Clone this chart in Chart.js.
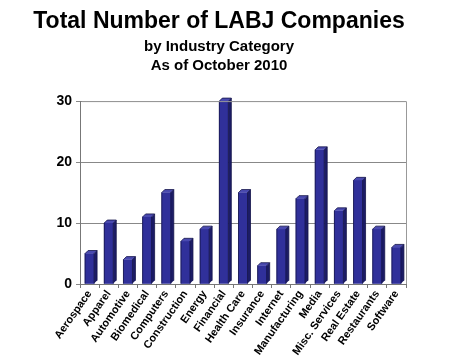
<!DOCTYPE html>
<html><head><meta charset="utf-8">
<script src="https://cdn.jsdelivr.net/npm/chart.js@4"></script>
<style>html,body{margin:0;padding:0;background:#fff;}#wrap{width:450px;height:364px;}</style>
</head><body><div id="wrap"><canvas id="c" width="450" height="364"></canvas></div>
<script>
const categories = ["Aerospace","Apparel","Automotive","Biomedical","Computers","Construction","Energy","Financial","Health Care","Insurance","Internet","Manufacturing","Media","Misc. Services","Real Estate","Restaurants","Software"];
const companyCounts = [5,10,4,11,15,7,9,30,15,3,9,14,22,12,17,9,6];
const yTicks = [0,10,20,30];

const FONT = "'Liberation Sans', Arial, sans-serif";
const bar3d = {
  id: 'bar3d',
  afterDatasetsDraw(chart) {
    const ctx = chart.ctx, d = 3;
    chart.getDatasetMeta(0).data.forEach(el => {
      const {x, y, base, width} = el.getProps(['x','y','base','width'], true);
      const l = x - width/2, r = x + width/2;
      ctx.save();
      ctx.fillStyle = '#1c1c66';
      ctx.beginPath();
      ctx.moveTo(r, y); ctx.lineTo(r+d, y-d); ctx.lineTo(r+d, base-d); ctx.lineTo(r, base); ctx.closePath(); ctx.fill();
      ctx.fillStyle = '#4a4ab0';
      ctx.beginPath();
      ctx.moveTo(l, y); ctx.lineTo(l+d, y-d); ctx.lineTo(r+d, y-d); ctx.lineTo(r, y); ctx.closePath(); ctx.fill();
      ctx.strokeStyle = '#14144a'; ctx.lineWidth = 0.8;
      ctx.beginPath();
      ctx.moveTo(l, base); ctx.lineTo(l, y); ctx.lineTo(l+d, y-d); ctx.lineTo(r+d, y-d); ctx.lineTo(r+d, base-d);
      ctx.moveTo(r, base); ctx.lineTo(r, y); ctx.lineTo(r+d, y-d);
      ctx.stroke();
      ctx.restore();
    });
  }
};

new Chart(document.getElementById('c'), {
  type: 'bar',
  data: { labels: categories, datasets: [{ data: companyCounts, backgroundColor: '#30309a', barThickness: 9 }] },
  options: {
    responsive: false, animation: false,
    layout: { padding: { left: 32, right: 44, top: 4, bottom: 0 } },
    plugins: {
      legend: { display: false }, tooltip: { enabled: false },
      title: { display: true, text: 'Total Number of LABJ Companies', color: '#000', font: { family: FONT, size: 23, weight: 'bold' }, padding: { top: 4, bottom: 0 } },
      subtitle: { display: true, text: ['by Industry Category','As of October 2010'], color: '#000', font: { family: FONT, size: 15, weight: 'bold', lineHeight: 1.25 }, padding: { top: 2, bottom: 26 } }
    },
    scales: {
      y: {
        min: 0, max: 30,
        afterBuildTicks(s) { s.ticks = yTicks.map(v => ({ value: v })); },
        afterFit(s) { s.width = 48; },
        ticks: { color: '#000', font: { family: FONT, size: 14, weight: 'bold' }, padding: 4 },
        grid: { color: '#888', lineWidth: 1, tickLength: 4, drawTicks: true },
        border: { color: '#777', width: 1 }
      },
      x: {
        offset: true,
        afterFit(s) { s.height = 80; },
        ticks: { color: '#000', font: { family: FONT, size: 11, weight: 'bold' }, minRotation: 55, maxRotation: 55, autoSkip: false, padding: 0 },
        grid: { offset: true, drawOnChartArea: false, color: '#777', tickLength: 4 },
        border: { color: '#777', width: 1 }
      }
    }
  },
  plugins: [bar3d, {
    id: 'frame',
    afterDraw(chart) {
      const {left, right, top, bottom} = chart.chartArea, ctx = chart.ctx;
      ctx.save(); ctx.strokeStyle = '#999'; ctx.lineWidth = 1;
      ctx.beginPath(); ctx.moveTo(left+2, top+0.5); ctx.lineTo(right+0.5, top+0.5); ctx.lineTo(right+0.5, bottom); ctx.stroke();
      ctx.restore();
    }
  }]
});
</script></body></html>
